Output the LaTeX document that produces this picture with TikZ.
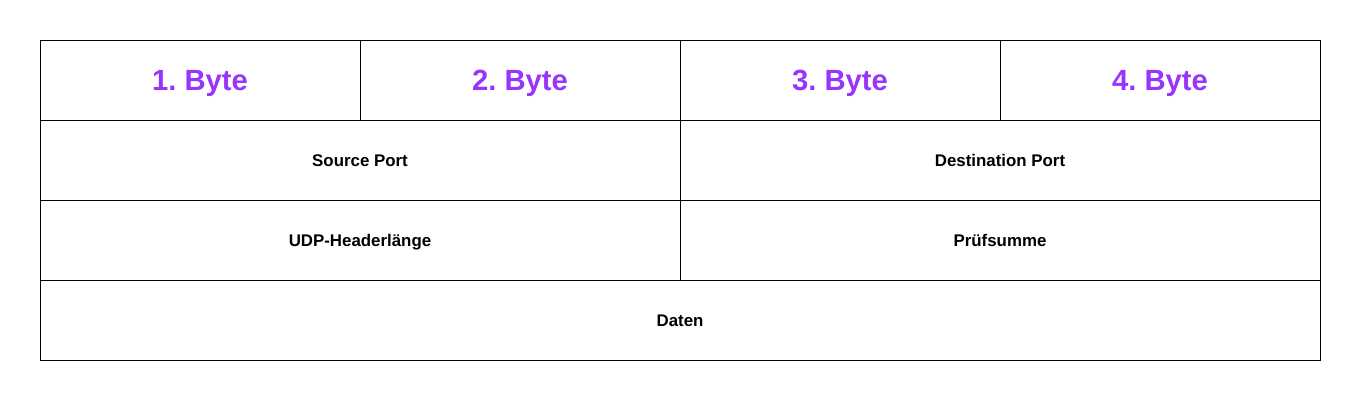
\documentclass[tikz,border=0pt]{standalone}
\usepackage{fontspec}
\setmainfont{Liberation Sans}
\usetikzlibrary{positioning}
\definecolor{bytepurple}{HTML}{9933FF}
\frenchspacing

\begin{document}
\begin{tikzpicture}[node distance=0pt,
  cell/.style={draw,line width=0.7pt,outer sep=0pt,inner sep=0pt,minimum height=2cm,
    text height=8.6pt,text depth=0pt,font=\fontsize{12}{14}\selectfont\bfseries},
  bytecell/.style={cell,minimum width=8cm,text=bytepurple,text height=15pt,
    font=\fontsize{20.8}{24}\selectfont\bfseries},
  halfcell/.style={cell,minimum width=16cm},
  fullcell/.style={cell,minimum width=32cm}]

\useasboundingbox (0,0) rectangle (34,-10);

\node[bytecell,anchor=north west] (b1) at (1,-1) {1. Byte};
 \node[bytecell] (b2) [right=of b1] {2. Byte};
	\node[bytecell] (b3) [right=of b2] {3. Byte};
\node[bytecell] (b4) [right=of b3] {4. Byte};

\node[halfcell,anchor=north west] (srcport) at (b1.south west) {Source Port};
\node[halfcell] (dstport) [right=of srcport] {Destination Port};

\node[halfcell] (hdrlen) [below=of srcport] {UDP-Headerlänge};
\node[halfcell] (checksum) [right=of hdrlen] {Prüfsumme};

\node[fullcell,anchor=north west] (data) at (hdrlen.south west) {Daten};

\end{tikzpicture}
\end{document}
